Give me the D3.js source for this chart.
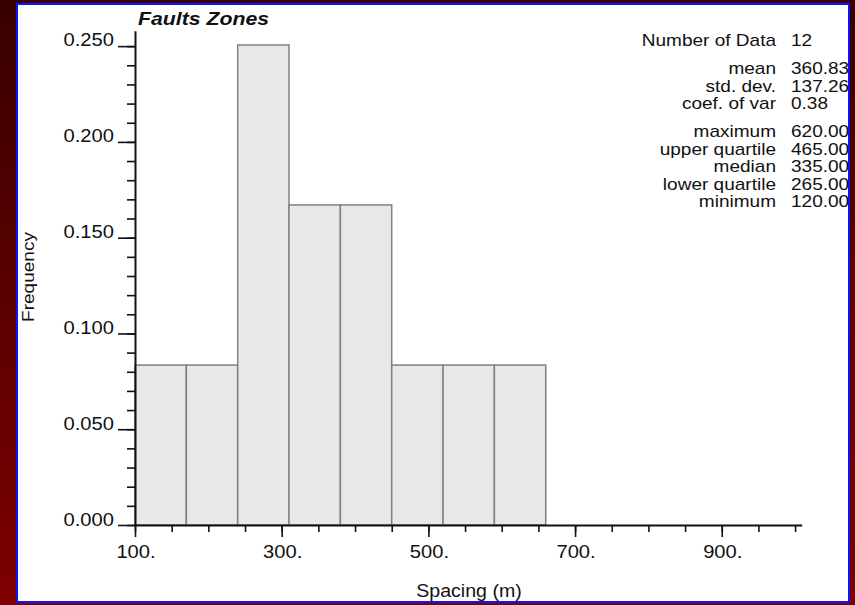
<!DOCTYPE html>
<html>
<head>
<meta charset="utf-8">
<script src="https://cdn.jsdelivr.net/npm/d3@7"></script>
<style>
  html, body { margin: 0; padding: 0; background: #3c0000; }
  svg { display: block; }
</style>
</head>
<body>
<svg id="chart" width="855" height="605"></svg>
<script>
// histogram of fault zone spacing
const binStarts = [100, 170, 240, 310, 380, 450, 520, 590];
const binWidth = 70;
const frequencies = [0.0833, 0.0833, 0.25, 0.1667, 0.1667, 0.0833, 0.0833, 0.0833];

const yMajorTicks = [0, 0.05, 0.1, 0.15, 0.2, 0.25];
const yTickLabels = ["0.000", "0.050", "0.100", "0.150", "0.200", "0.250"];
const xMajorTicks = [100, 300, 500, 700, 900];
const xTickLabels = ["100.", "300.", "500.", "700.", "900."];

const statLabels = ["Number of Data", "mean", "std. dev.", "coef. of var", "maximum",
  "upper quartile", "median", "lower quartile", "minimum"];
const statValues = ["12", "360.83", "137.26", "0.38", "620.00", "465.00", "335.00", "265.00", "120.00"];
const statGroupBreaks = [1, 4]; // extra gap before these rows

const title = "Faults Zones";
const xTitle = "Spacing (m)";
const yTitle = "Frequency";

const W = 855, H = 605;
const font = "'Liberation Sans', Arial, Helvetica, sans-serif";
const stretch = 1.12; // the original glyphs are a little wider than Arial

const svg = d3.select("#chart");

// dark red backdrop
const defs = svg.append("defs");
const grad = defs.append("linearGradient")
  .attr("id", "bg")
  .attr("x1", 0).attr("y1", 0).attr("x2", 0).attr("y2", 1);
grad.append("stop").attr("offset", "0%").attr("stop-color", "#380000");
grad.append("stop").attr("offset", "100%").attr("stop-color", "#7e0000");
svg.append("rect").attr("width", W).attr("height", H).attr("fill", "url(#bg)");

defs.append("clipPath").attr("id", "panelClip")
  .append("rect").attr("x", 17).attr("y", 4).attr("width", 832).attr("height", 598);

svg.append("rect")
  .attr("x", 17).attr("y", 4)
  .attr("width", 832).attr("height", 598)
  .attr("fill", "#ffffff")
  .attr("stroke", "#0a14ff")
  .attr("stroke-width", 2);

const g = svg.append("g").attr("clip-path", "url(#panelClip)");

const x = d3.scaleLinear().domain([100, 1009]).range([135, 801.7]);
const y = d3.scaleLinear().domain([0, 0.25]).range([525, 45]);

function addText(sel, tx, ty, str, opts = {}) {
  return sel.append("text")
    .attr("transform", `translate(${tx},${ty}) rotate(${opts.rotate || 0}) scale(${stretch},1)`)
    .attr("text-anchor", opts.anchor || "start")
    .attr("font-family", font)
    .attr("font-size", opts.size || 17)
    .attr("font-weight", opts.weight || "normal")
    .attr("font-style", opts.style || "normal")
    .attr("fill", "#111")
    .text(str);
}

// bars
g.append("g")
  .selectAll("rect")
  .data(binStarts.map((s, i) => ({ start: s, freq: frequencies[i] })))
  .join("rect")
  .attr("x", (d) => x(d.start))
  .attr("y", (d) => y(d.freq))
  .attr("width", (d) => x(d.start + binWidth) - x(d.start))
  .attr("height", (d) => y(0) - y(d.freq))
  .attr("fill", "#e8e8e8")
  .attr("stroke", "#808080")
  .attr("stroke-width", 1.5);

// y axis: minor ticks then major ticks
const yAxisScale = d3.scaleLinear().domain([0, 0.258]).range([525, 30.8]);
const yMinor = d3.range(0, 0.2501, 0.01);
g.append("g")
  .attr("transform", "translate(135,0)")
  .call(d3.axisLeft(yAxisScale).tickValues(yMinor).tickSize(8).tickSizeOuter(0).tickFormat(""))
  .call((a) => a.selectAll("line").attr("stroke", "#111").attr("stroke-width", 1.6))
  .call((a) => a.select(".domain").attr("stroke", "#111").attr("stroke-width", 2));
g.append("g")
  .attr("transform", "translate(135,0)")
  .call(d3.axisLeft(yAxisScale).tickValues(yMajorTicks).tickSize(17).tickSizeOuter(0).tickFormat(""))
  .call((a) => a.selectAll("line").attr("stroke", "#111").attr("stroke-width", 1.6))
  .call((a) => a.select(".domain").remove());

yMajorTicks.forEach((v, i) => {
  addText(g, 114, y(v) + 0.5, yTickLabels[i], { anchor: "end", size: 18 });
});

// x axis
const xMinor = d3.range(100, 1001, 50);
g.append("g")
  .attr("transform", "translate(0,525)")
  .call(d3.axisBottom(x).tickValues(xMinor).tickSize(7).tickSizeOuter(0).tickFormat(""))
  .call((a) => a.selectAll("line").attr("stroke", "#111").attr("stroke-width", 1.6))
  .call((a) => a.select(".domain").attr("stroke", "#111").attr("stroke-width", 2));
g.append("g")
  .attr("transform", "translate(0,525)")
  .call(d3.axisBottom(x).tickValues(xMajorTicks).tickSize(12).tickSizeOuter(0).tickFormat(""))
  .call((a) => a.selectAll("line").attr("stroke", "#111").attr("stroke-width", 1.6))
  .call((a) => a.select(".domain").remove());

xMajorTicks.forEach((v, i) => {
  addText(g, x(v) + 1, 558, xTickLabels[i], { anchor: "middle", size: 18 });
});

// titles
addText(g, 138, 25, title, { size: 19, weight: "bold", style: "italic" });
addText(g, 469, 597, xTitle, { anchor: "middle", size: 17.5 });
addText(g, 34, 277, yTitle, { anchor: "middle", size: 17, rotate: -90 });

// statistics block
let rowY = 46;
statLabels.forEach((lab, i) => {
  if (i > 0) rowY += statGroupBreaks.includes(i) ? 28 : 17.5;
  addText(g, 776, rowY, lab, { anchor: "end", size: 17 });
  addText(g, 791, rowY, statValues[i], { anchor: "start", size: 17 });
});
</script>
</body>
</html>
